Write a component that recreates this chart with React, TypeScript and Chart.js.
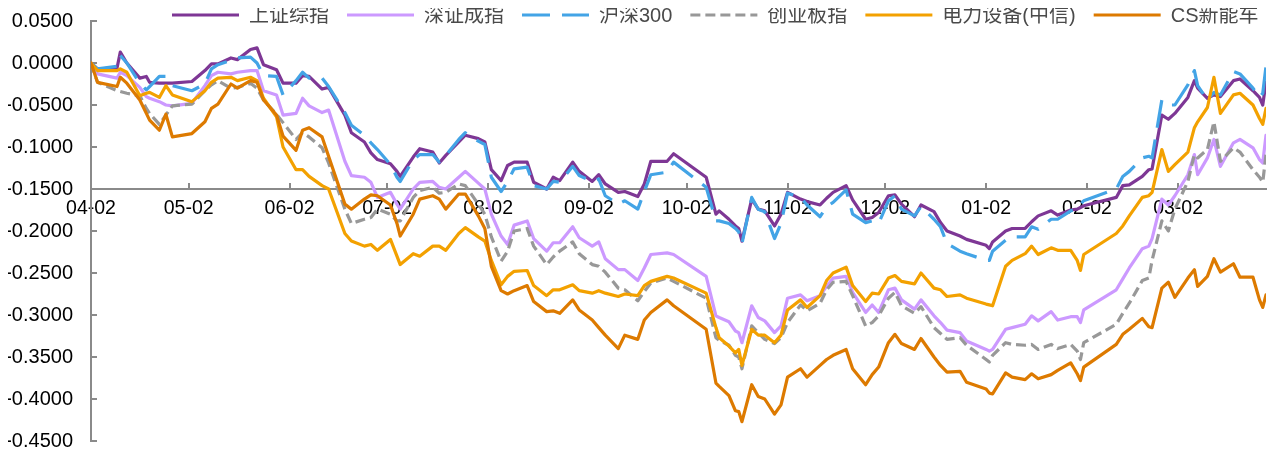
import React, { useEffect, useRef } from "react";
import { Chart, registerables } from "chart.js";

Chart.register(...registerables);

// Trading dates sampled from the series (2018-04-02 = base, value 0)
const dates = [
  "2018-04-02", "2018-04-04", "2018-04-10", "2018-04-11", "2018-04-13", "2018-04-17", "2018-04-19", "2018-04-20",
  "2018-04-23", "2018-04-25", "2018-04-27", "2018-05-03", "2018-05-07", "2018-05-09", "2018-05-11", "2018-05-15",
  "2018-05-17", "2018-05-21", "2018-05-23", "2018-05-25", "2018-05-29", "2018-05-31", "2018-06-04", "2018-06-06",
  "2018-06-08", "2018-06-12", "2018-06-14", "2018-06-19", "2018-06-21", "2018-06-25", "2018-06-27", "2018-06-29",
  "2018-07-03", "2018-07-05", "2018-07-06", "2018-07-10", "2018-07-12", "2018-07-16", "2018-07-18", "2018-07-20",
  "2018-07-24", "2018-07-26", "2018-07-30", "2018-08-01", "2018-08-03", "2018-08-06", "2018-08-08", "2018-08-10",
  "2018-08-14", "2018-08-16", "2018-08-20", "2018-08-22", "2018-08-24", "2018-08-28", "2018-08-30", "2018-09-03",
  "2018-09-05", "2018-09-07", "2018-09-11", "2018-09-13", "2018-09-17", "2018-09-19", "2018-09-21", "2018-09-26",
  "2018-09-28", "2018-10-08", "2018-10-11", "2018-10-12", "2018-10-15", "2018-10-17", "2018-10-18", "2018-10-19",
  "2018-10-22", "2018-10-24", "2018-10-26", "2018-10-29", "2018-10-31", "2018-11-02", "2018-11-06", "2018-11-08",
  "2018-11-12", "2018-11-14", "2018-11-16", "2018-11-20", "2018-11-22", "2018-11-26", "2018-11-28", "2018-11-30",
  "2018-12-03", "2018-12-05", "2018-12-07", "2018-12-11", "2018-12-13", "2018-12-17", "2018-12-19", "2018-12-21",
  "2018-12-25", "2018-12-27", "2019-01-02", "2019-01-03", "2019-01-04", "2019-01-08", "2019-01-10", "2019-01-14",
  "2019-01-16", "2019-01-18", "2019-01-22", "2019-01-24", "2019-01-28", "2019-01-30", "2019-01-31", "2019-02-01",
  "2019-02-11", "2019-02-13", "2019-02-15", "2019-02-19", "2019-02-21", "2019-02-22", "2019-02-25", "2019-02-27",
  "2019-03-01", "2019-03-05", "2019-03-07", "2019-03-08", "2019-03-11", "2019-03-13", "2019-03-15", "2019-03-19",
  "2019-03-21", "2019-03-25", "2019-03-27", "2019-03-28", "2019-03-29",
];

const tickDates = [
  "2018-04-02", "2018-05-02", "2018-06-02", "2018-07-02", "2018-08-02", "2018-09-02",
  "2018-10-02", "2018-11-02", "2018-12-02", "2019-01-02", "2019-02-02", "2019-03-02",
];
const tickLabels = ["04-02", "05-02", "06-02", "07-02", "08-02", "09-02", "10-02", "11-02", "12-02", "01-02", "02-02", "03-02"];
const lastDate = "2019-03-29";
const yTicks = [0.05, 0, -0.05, -0.1, -0.15, -0.2, -0.25, -0.3, -0.35, -0.4, -0.45];
const xAxisCross = -0.15;

const seriesNames = ["上证综指", "深证成指", "沪深300", "创业板指", "电力设备(中信)", "CS新能车"];

const shComposite = [
  0, -0.007, -0.006, 0.013, 0.0, -0.018, -0.016, -0.023, -0.024, -0.024, -0.024, -0.022, -0.009, -0.001, -0.001, 0.006,
  0.004, 0.016, 0.018, -0.002, -0.008, -0.024, -0.024, -0.015, -0.016, -0.031, -0.029, -0.062, -0.083, -0.094, -0.107, -0.115,
  -0.12, -0.129, -0.135, -0.112, -0.102, -0.106, -0.119, -0.11, -0.094, -0.086, -0.09, -0.094, -0.127, -0.14, -0.122, -0.118,
  -0.118, -0.142, -0.15, -0.136, -0.14, -0.118, -0.129, -0.141, -0.133, -0.144, -0.154, -0.153, -0.159, -0.144, -0.117, -0.117,
  -0.108, -0.136, -0.18, -0.176, -0.186, -0.194, -0.197, -0.212, -0.162, -0.174, -0.176, -0.194, -0.18, -0.154, -0.162, -0.165,
  -0.169, -0.161, -0.154, -0.146, -0.163, -0.186, -0.184, -0.178, -0.158, -0.157, -0.168, -0.183, -0.169, -0.177, -0.19, -0.2,
  -0.206, -0.21, -0.217, -0.221, -0.213, -0.2, -0.197, -0.197, -0.189, -0.182, -0.176, -0.181, -0.175, -0.174, -0.172, -0.17,
  -0.16, -0.146, -0.145, -0.135, -0.127, -0.126, -0.062, -0.067, -0.06, -0.041, -0.021, -0.03, -0.042, -0.038, -0.04, -0.021,
  -0.019, -0.033, -0.041, -0.05, -0.023,
];

const szComponent = [
  0, -0.013, -0.018, -0.011, -0.015, -0.029, -0.04, -0.042, -0.046, -0.05, -0.051, -0.048, -0.027, -0.015, -0.011, -0.013,
  -0.011, -0.009, -0.009, -0.033, -0.038, -0.062, -0.06, -0.042, -0.051, -0.059, -0.056, -0.117, -0.134, -0.136, -0.142, -0.16,
  -0.154, -0.168, -0.174, -0.15, -0.142, -0.141, -0.148, -0.15, -0.136, -0.129, -0.143, -0.15, -0.18, -0.206, -0.216, -0.193,
  -0.188, -0.209, -0.224, -0.214, -0.214, -0.195, -0.208, -0.218, -0.213, -0.233, -0.246, -0.246, -0.259, -0.244, -0.228, -0.226,
  -0.228, -0.254, -0.301, -0.303, -0.308, -0.319, -0.321, -0.333, -0.289, -0.303, -0.307, -0.321, -0.313, -0.28, -0.276, -0.283,
  -0.277, -0.266, -0.256, -0.254, -0.273, -0.297, -0.288, -0.297, -0.27, -0.268, -0.282, -0.293, -0.282, -0.301, -0.309, -0.318,
  -0.321, -0.331, -0.341, -0.343, -0.341, -0.317, -0.315, -0.311, -0.301, -0.307, -0.296, -0.306, -0.302, -0.302, -0.309, -0.294,
  -0.27, -0.257, -0.244, -0.221, -0.218, -0.209, -0.162, -0.169, -0.158, -0.133, -0.109, -0.133, -0.113, -0.091, -0.123, -0.095,
  -0.091, -0.101, -0.115, -0.119, -0.086,
];

const csi300 = [
  0, -0.007, -0.004, 0.009, 0.0, -0.024, -0.032, -0.028, -0.016, -0.016, -0.027, -0.033, -0.025, -0.007, -0.002, 0.003,
  0.006, 0.007, 0.0, -0.015, -0.016, -0.038, -0.021, -0.011, -0.018, -0.018, -0.028, -0.059, -0.074, -0.086, -0.095, -0.103,
  -0.121, -0.136, -0.141, -0.115, -0.109, -0.109, -0.118, -0.11, -0.091, -0.083, -0.093, -0.097, -0.136, -0.153, -0.141, -0.126,
  -0.124, -0.146, -0.15, -0.141, -0.142, -0.123, -0.134, -0.141, -0.138, -0.158, -0.168, -0.164, -0.174, -0.153, -0.133, -0.13,
  -0.118, -0.148, -0.188, -0.188, -0.191, -0.197, -0.201, -0.215, -0.16, -0.174, -0.177, -0.209, -0.191, -0.155, -0.16, -0.169,
  -0.183, -0.171, -0.166, -0.151, -0.18, -0.19, -0.188, -0.191, -0.164, -0.158, -0.174, -0.182, -0.171, -0.186, -0.195, -0.215,
  -0.224, -0.227, -0.235, -0.235, -0.224, -0.211, -0.207, -0.207, -0.195, -0.198, -0.186, -0.186, -0.176, -0.174, -0.168, -0.164,
  -0.15, -0.135, -0.129, -0.113, -0.111, -0.113, -0.044, -0.05, -0.05, -0.026, -0.009, -0.027, -0.044, -0.035, -0.038, -0.01,
  -0.013, -0.03, -0.041, -0.036, -0.004,
];

const chiNext = [
  0, -0.023, -0.033, -0.034, -0.036, -0.039, -0.054, -0.06, -0.073, -0.062, -0.051, -0.049, -0.033, -0.026, -0.021, -0.03,
  -0.029, -0.024, -0.03, -0.044, -0.061, -0.071, -0.091, -0.083, -0.088, -0.101, -0.119, -0.174, -0.191, -0.186, -0.184, -0.174,
  -0.18, -0.188, -0.188, -0.16, -0.152, -0.148, -0.155, -0.154, -0.144, -0.146, -0.168, -0.18, -0.207, -0.236, -0.224, -0.2,
  -0.197, -0.218, -0.24, -0.231, -0.224, -0.213, -0.227, -0.24, -0.242, -0.249, -0.268, -0.27, -0.283, -0.272, -0.262, -0.256,
  -0.26, -0.28, -0.327, -0.33, -0.336, -0.348, -0.35, -0.364, -0.313, -0.321, -0.329, -0.334, -0.327, -0.309, -0.288, -0.295,
  -0.286, -0.27, -0.261, -0.26, -0.277, -0.313, -0.309, -0.301, -0.28, -0.273, -0.289, -0.298, -0.29, -0.315, -0.322, -0.329,
  -0.327, -0.336, -0.353, -0.356, -0.348, -0.333, -0.335, -0.336, -0.335, -0.341, -0.335, -0.34, -0.335, -0.343, -0.353, -0.333,
  -0.311, -0.298, -0.286, -0.259, -0.256, -0.235, -0.188, -0.2, -0.174, -0.141, -0.109, -0.113, -0.103, -0.07, -0.117, -0.101,
  -0.106, -0.127, -0.136, -0.142, -0.109,
];

const powerEquip = [
  0, -0.009, -0.009, -0.007, -0.011, -0.039, -0.036, -0.035, -0.041, -0.027, -0.038, -0.046, -0.033, -0.023, -0.018, -0.017,
  -0.021, -0.017, -0.021, -0.042, -0.064, -0.1, -0.127, -0.127, -0.135, -0.146, -0.15, -0.203, -0.212, -0.218, -0.216, -0.223,
  -0.21, -0.23, -0.24, -0.227, -0.23, -0.218, -0.218, -0.223, -0.203, -0.196, -0.207, -0.212, -0.235, -0.264, -0.254, -0.248,
  -0.247, -0.265, -0.277, -0.27, -0.27, -0.264, -0.271, -0.274, -0.271, -0.274, -0.278, -0.275, -0.277, -0.265, -0.26, -0.254,
  -0.256, -0.274, -0.315, -0.327, -0.337, -0.345, -0.341, -0.36, -0.317, -0.324, -0.324, -0.333, -0.324, -0.294, -0.282, -0.291,
  -0.277, -0.259, -0.25, -0.243, -0.265, -0.284, -0.274, -0.275, -0.256, -0.253, -0.26, -0.263, -0.25, -0.268, -0.27, -0.278,
  -0.276, -0.28, -0.287, -0.288, -0.289, -0.242, -0.235, -0.227, -0.218, -0.228, -0.22, -0.223, -0.223, -0.235, -0.247, -0.228,
  -0.203, -0.194, -0.182, -0.16, -0.158, -0.154, -0.103, -0.129, -0.121, -0.106, -0.077, -0.07, -0.053, -0.017, -0.06, -0.038,
  -0.036, -0.05, -0.066, -0.073, -0.054,
];

const newEnergyVehicle = [
  0, -0.023, -0.028, -0.017, -0.024, -0.044, -0.06, -0.068, -0.08, -0.061, -0.088, -0.084, -0.07, -0.054, -0.049, -0.025,
  -0.03, -0.021, -0.023, -0.044, -0.062, -0.087, -0.104, -0.08, -0.077, -0.088, -0.111, -0.168, -0.174, -0.162, -0.157, -0.158,
  -0.169, -0.191, -0.206, -0.18, -0.162, -0.158, -0.162, -0.174, -0.156, -0.156, -0.182, -0.197, -0.242, -0.271, -0.275, -0.271,
  -0.265, -0.284, -0.296, -0.295, -0.298, -0.282, -0.294, -0.306, -0.315, -0.324, -0.34, -0.324, -0.329, -0.306, -0.297, -0.282,
  -0.289, -0.317, -0.381, -0.385, -0.396, -0.414, -0.415, -0.427, -0.383, -0.397, -0.4, -0.418, -0.407, -0.374, -0.364, -0.374,
  -0.36, -0.353, -0.348, -0.341, -0.364, -0.383, -0.371, -0.362, -0.333, -0.323, -0.334, -0.341, -0.328, -0.35, -0.36, -0.368,
  -0.367, -0.38, -0.388, -0.393, -0.394, -0.369, -0.374, -0.377, -0.37, -0.376, -0.371, -0.366, -0.357, -0.37, -0.378, -0.362,
  -0.335, -0.323, -0.317, -0.304, -0.314, -0.315, -0.268, -0.261, -0.279, -0.256, -0.246, -0.266, -0.254, -0.233, -0.249, -0.239,
  -0.255, -0.255, -0.282, -0.291, -0.276,
];

const seriesValues = [shComposite, szComponent, csi300, chiNext, powerEquip, newEnergyVehicle];
const seriesColors = ["#7E3795", "#CC99FF", "#43A4E6", "#989898", "#F3A100", "#DD7A00"];
const seriesDashes: number[][] = [[], [], [28, 12], [10, 5], [], []];

const AXIS_COLOR = "#8A8A8A";
const FONT_FAMILY = '"Liberation Sans", Arial, "Noto Sans CJK SC", sans-serif';

function dayOffset(s: string): number {
  const [y, m, d] = s.split("-").map(Number);
  return Math.round((Date.UTC(y, m - 1, d) - Date.UTC(2018, 3, 2)) / 86400000);
}

const tickDays = tickDates.map(dayOffset);

const decorPlugin = {
  id: "decor",
  beforeDatasetsDraw(chart: any) {
    const { ctx, scales } = chart;
    const xs = scales.x;
    const ys = scales.y;
    ctx.save();
    ctx.strokeStyle = AXIS_COLOR;
    ctx.lineWidth = 2;
    const axisY = Math.round(ys.getPixelForValue(xAxisCross));
    ctx.beginPath();
    tickDays.forEach((d) => {
      const px = Math.round(xs.getPixelForValue(d));
      ctx.moveTo(px, axisY);
      ctx.lineTo(px, axisY - 6);
    });
    const axisX = Math.round(xs.getPixelForValue(0));
    yTicks.forEach((v) => {
      const py = Math.round(ys.getPixelForValue(v));
      ctx.moveTo(axisX, py);
      ctx.lineTo(axisX + 6, py);
    });
    ctx.stroke();
    ctx.restore();
  },
  afterDraw(chart: any) {
    const { ctx } = chart;
    ctx.save();
    ctx.font = `20px ${FONT_FAMILY}`;
    ctx.textBaseline = "middle";
    ctx.textAlign = "left";
    let x = 172;
    const lineY = 15;
    const textY = 16;
    seriesNames.forEach((name, i) => {
      ctx.strokeStyle = seriesColors[i];
      ctx.lineWidth = 3.2;
      ctx.lineCap = "butt";
      ctx.setLineDash(seriesDashes[i]);
      ctx.beginPath();
      ctx.moveTo(x, lineY);
      ctx.lineTo(x + 67, lineY);
      ctx.stroke();
      ctx.setLineDash([]);
      ctx.fillStyle = "#4A4A4A";
      const tx = x + 77;
      ctx.fillText(name, tx, textY);
      x = tx + ctx.measureText(name).width + 18;
    });
    ctx.restore();
  },
};

export default function App() {
  const canvasRef = useRef<HTMLCanvasElement | null>(null);

  useEffect(() => {
    if (!canvasRef.current) return;
    const datasets = seriesNames.map((name, i) => ({
      label: name,
      data: seriesValues[i].map((v, j) => ({ x: dayOffset(dates[j]), y: v })),
      borderColor: seriesColors[i],
      backgroundColor: seriesColors[i],
      borderWidth: 3.2,
      borderDash: seriesDashes[i],
      borderCapStyle: seriesDashes[i].length ? "butt" : "round",
      borderJoinStyle: "round",
      pointRadius: 0,
      tension: 0,
      fill: false,
      order: seriesNames.length - 1 - i,
    }));

    const chart = new Chart(canvasRef.current, {
      type: "line",
      data: { datasets } as any,
      options: {
        responsive: false,
        animation: false,
        events: [],
        layout: { padding: { left: 8, right: 10, top: 21, bottom: 16 } },
        plugins: { legend: { display: false }, tooltip: { enabled: false } },
        scales: {
          x: {
            type: "linear",
            min: 0,
            max: dayOffset(lastDate),
            position: { y: xAxisCross } as any,
            grid: { display: false, drawTicks: false },
            border: { display: true, color: AXIS_COLOR, width: 2 },
            afterBuildTicks: (scale: any) => {
              scale.ticks = tickDays.map((v) => ({ value: v }));
            },
            afterFit: (scale: any) => {
              scale.paddingLeft = 0;
              scale.paddingRight = 0;
            },
            ticks: {
              autoSkip: false,
              maxRotation: 0,
              padding: 8,
              color: "#000000",
              font: { size: 19.5, family: FONT_FAMILY },
              callback: (value: any) => {
                const idx = tickDays.indexOf(Number(value));
                return idx >= 0 ? tickLabels[idx] : "";
              },
            },
          },
          y: {
            type: "linear",
            min: -0.45,
            max: 0.05,
            position: "left",
            afterFit: (scale: any) => {
              scale.width = 83;
              scale.paddingTop = 0;
              scale.paddingBottom = 0;
            },
            afterBuildTicks: (scale: any) => {
              scale.ticks = yTicks.map((v) => ({ value: v }));
            },
            grid: { display: false, drawTicks: false },
            border: { display: true, color: AXIS_COLOR, width: 2 },
            ticks: {
              padding: 18,
              color: "#000000",
              font: { size: 20, family: FONT_FAMILY },
              callback: (value: any) => {
                const v = Number(value);
                return Math.abs(v) < 1e-9 ? "0.0000" : v.toFixed(4);
              },
            },
          },
        },
      } as any,
      plugins: [decorPlugin],
    });
    return () => chart.destroy();
  }, []);

  return (
    <div style={{ margin: -8, width: 1276, height: 457 }}>
      <canvas ref={canvasRef} width={1276} height={457} style={{ display: "block" }} />
    </div>
  );
}
